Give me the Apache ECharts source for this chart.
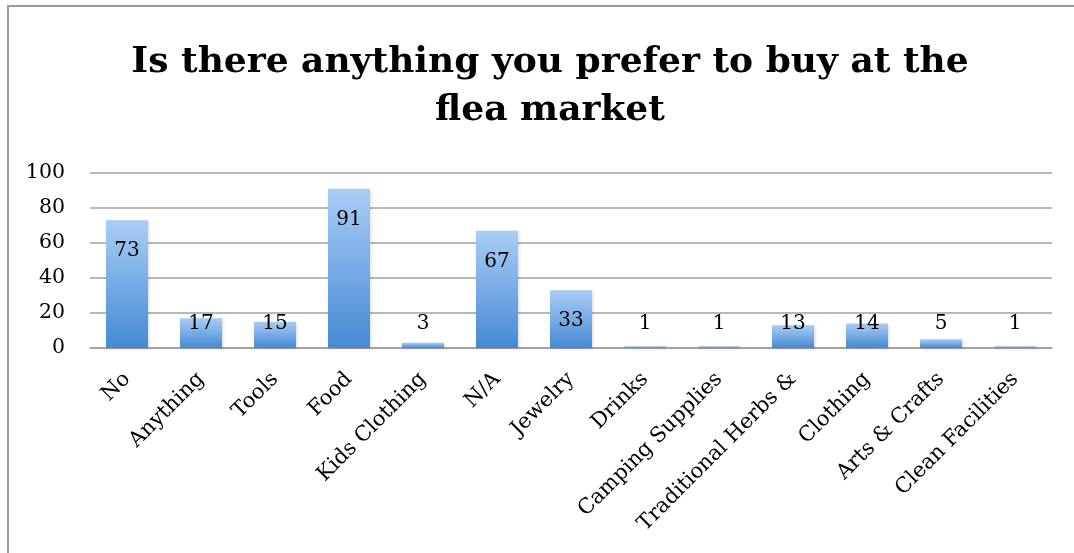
<!DOCTYPE html>
<html>
<head>
<meta charset="utf-8">
<script src="https://cdn.jsdelivr.net/npm/echarts@6/dist/echarts.min.js"></script>
<style>
html,body{margin:0;padding:0;background:#fff;}
#chart{width:1074px;height:553px;}
</style>
</head>
<body>
<div id="chart"></div>
<script>
const titleText = "Is there anything you prefer to buy at the\nflea market";
const categories = ["No","Anything","Tools","Food","Kids Clothing","N/A","Jewelry","Drinks","Camping Supplies","Traditional Herbs &","Clothing","Arts & Crafts","Clean Facilities"];
const values = [73,17,15,91,3,67,33,1,1,13,14,5,1];
const yTicks = [0,20,40,60,80,100];

const FONT = "'DejaVu Serif', 'Liberation Serif', serif";
const chart = echarts.init(document.getElementById('chart'), null, {renderer:'canvas'});

const data = values.map(v => ({
  value: v,
  label: v >= 30
    ? {position:'insideTop', distance: 21}
    : {position:'insideBottom', distance: 14}
}));

chart.setOption({
  animation:false,
  backgroundColor:'#fff',
  graphic:[{
    type:'rect', silent:true,
    shape:{x:8,y:6,width:1200,height:700},
    style:{fill:'none',stroke:'#9a9a9a',lineWidth:2}
  }],
  title:{
    text:titleText,
    left:545, textAlign:'center',
    top:34,
    textStyle:{fontFamily:FONT,fontWeight:'bold',fontSize:36,lineHeight:48,color:'#000'}
  },
  grid:{left:90,right:22,top:173,bottom:205,containLabel:false},
  xAxis:{
    type:'category',
    data:categories,
    axisTick:{show:false},
    axisLine:{show:true,lineStyle:{color:'#9a9a9a',width:1.5}},
    axisLabel:{rotate:45,fontFamily:FONT,fontSize:21,color:'#000',margin:28,interval:0}
  },
  yAxis:{
    type:'value',
    min:yTicks[0],max:yTicks[yTicks.length-1],interval:yTicks[1]-yTicks[0],
    axisLine:{show:false},
    axisTick:{show:false},
    splitLine:{lineStyle:{color:'#a0a0a0',width:1.5}},
    axisLabel:{fontFamily:FONT,fontSize:20.5,color:'#000',margin:25}
  },
  series:[{
    type:'bar',
    data:data,
    barWidth:42,
    itemStyle:{
      color:new echarts.graphic.LinearGradient(0,0,0,1,[
        {offset:0,color:'#a9cdf6'},
        {offset:1,color:'#4589d3'}
      ]),
      shadowColor:'rgba(0,0,0,0.15)',shadowBlur:3,shadowOffsetX:1,shadowOffsetY:1
    },
    label:{show:true,fontFamily:FONT,fontSize:20,color:'#000'}
  }]
});
</script>
</body>
</html>
